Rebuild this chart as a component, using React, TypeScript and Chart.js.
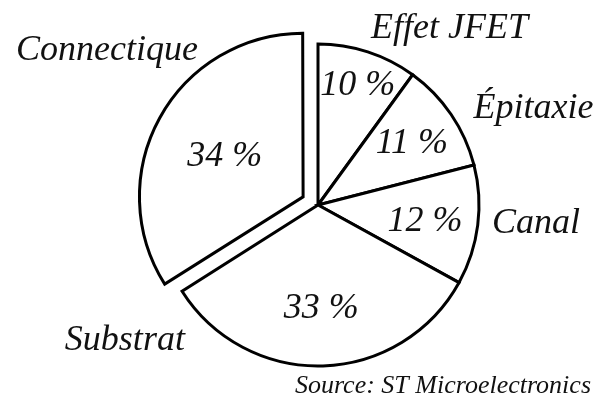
import React, { useEffect, useRef } from "react";
import { Chart, registerables } from "chart.js";

Chart.register(...registerables);

const categories = ["Effet JFET", "Épitaxie", "Canal", "Substrat", "Connectique"];
const shares = [10, 11, 12, 33, 34];
const exploded = [false, false, false, false, true];
const sourceNote = "Source: ST Microelectronics";

// label placement (relative to each slice): inside radius fraction, outside angle shift (deg) and radius fraction
const insideRadius = [0.8, 0.705, 0.67, 0.627, 0.555];
const outsidePlacement = [
  { da: 20.2, r: 1.32 },
  { da: 12.2, r: 1.443 },
  { da: 0.1, r: 1.365 },
  { da: 54.9, r: 1.5 },
  { da: 5.7, r: 1.59 },
];

const FONT = '"Liberation Serif", "Times New Roman", "DejaVu Serif", serif';

const labelPlugin = {
  id: "pieLabels",
  afterDatasetsDraw(chart: any) {
    const ctx = chart.ctx as CanvasRenderingContext2D;
    const meta = chart.getDatasetMeta(0);
    ctx.save();
    ctx.fillStyle = "#111";
    ctx.textAlign = "center";
    ctx.textBaseline = "alphabetic";
    ctx.font = `italic 36px ${FONT}`;
    meta.data.forEach((arc: any, i: number) => {
      const { x, y, startAngle, endAngle, outerRadius } = arc.getProps(
        ["x", "y", "startAngle", "endAngle", "outerRadius"],
        true
      );
      const mid = (startAngle + endAngle) / 2;
      const off = (arc.options.offset || 0) / 4;
      const cx = x + Math.cos(mid) * off;
      const cy = y + Math.sin(mid) * off;
      const ri = outerRadius * insideRadius[i];
      ctx.fillText(
        `${shares[i]} %`,
        cx + Math.cos(mid) * ri,
        cy + Math.sin(mid) * ri + 12
      );
      const p = outsidePlacement[i];
      const a = mid + (p.da * Math.PI) / 180;
      const ro = outerRadius * p.r;
      ctx.fillText(categories[i], x + Math.cos(a) * ro, y + Math.sin(a) * ro);
    });
    ctx.font = `italic 26px ${FONT}`;
    ctx.textAlign = "right";
    ctx.fillText(sourceNote, chart.width - 6, chart.height - 12);
    ctx.restore();
  },
};

export default function App() {
  const ref = useRef<HTMLCanvasElement | null>(null);
  useEffect(() => {
    if (!ref.current) return;
    const chart = new Chart(ref.current, {
      type: "pie",
      data: {
        labels: categories,
        datasets: [
          {
            data: shares,
            backgroundColor: "#ffffff",
            borderColor: "#000000",
            borderWidth: 3,
            borderJoinStyle: "miter",
            offset: exploded.map((e) => (e ? 68 : 0)),
            hoverOffset: 0,
            radius: 161,
          } as any,
        ],
      },
      options: {
        animation: false,
        responsive: false,
        events: [],
        radius: 161,
        layout: { padding: { left: 39, top: 5, right: 0, bottom: 0 } },
        plugins: {
          legend: { display: false },
          tooltip: { enabled: false },
          title: { display: false },
        },
      } as any,
      plugins: [labelPlugin],
    });
    return () => chart.destroy();
  }, []);
  return (
    <div
      style={{
        position: "absolute",
        left: 0,
        top: 0,
        width: 597,
        height: 405,
        background: "#ffffff",
      }}
    >
      <canvas ref={ref} width={597} height={405} style={{ width: 597, height: 405 }} />
    </div>
  );
}
